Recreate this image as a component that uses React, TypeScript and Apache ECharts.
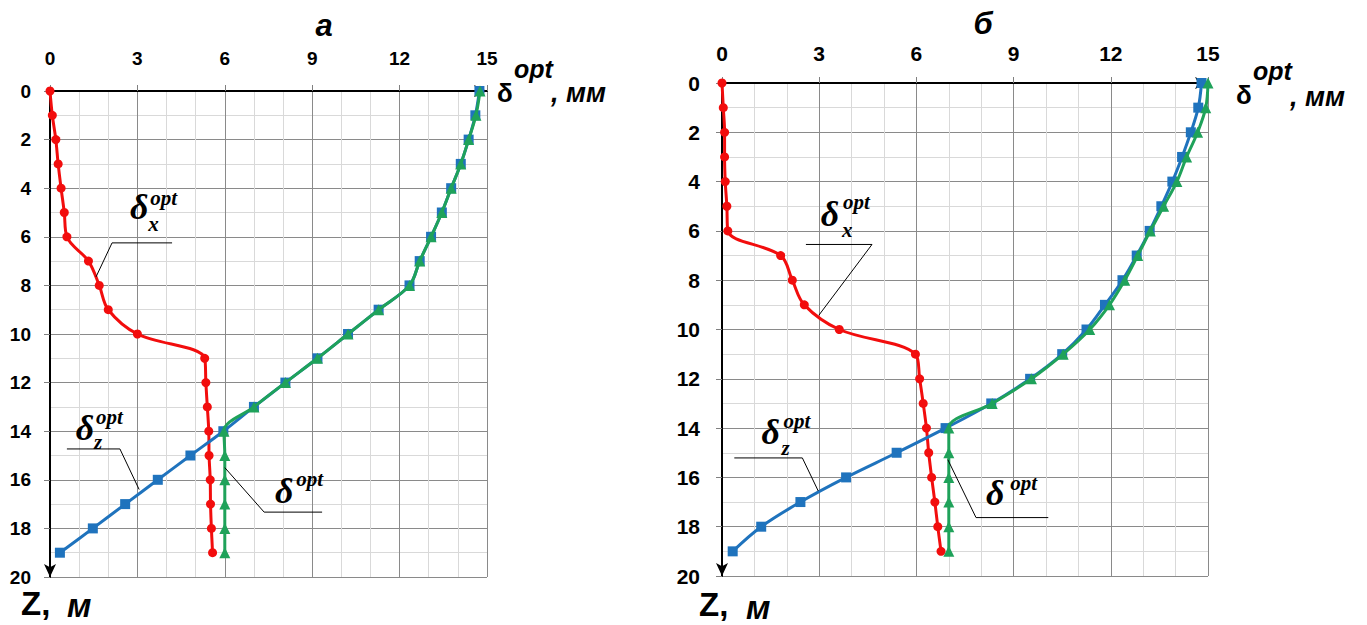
import React, { useEffect, useRef } from "react";
import * as echarts from "echarts";

// depth levels, m
const zLevels = [0, 1, 2, 3, 4, 5, 6, 7, 8, 9, 10, 11, 12, 13, 14, 15, 16, 17, 18, 19];

// panel "а"
const aDeltaX = [0, 0.08, 0.2, 0.28, 0.38, 0.49, 0.58, 1.32, 1.69, 2.0, 3.0, 5.31, 5.35, 5.4, 5.45, 5.46, 5.5, 5.51, 5.54, 5.58];
const aDeltaZ = [14.74, 14.6, 14.37, 14.1, 13.77, 13.45, 13.08, 12.69, 12.34, 11.28, 10.23, 9.18, 8.08, 7.0, 5.95, 4.82, 3.7, 2.58, 1.47, 0.34];
const aDelta = [14.76, 14.62, 14.37, 14.1, 13.77, 13.45, 13.08, 12.69, 12.34, 11.28, 10.23, 9.18, 8.08, 7.0, 5.97, 6.0, 6.0, 6.0, 6.0, 6.0];

// panel "б"
const bDeltaX = [0, 0.04, 0.08, 0.08, 0.1, 0.15, 0.18, 1.81, 2.17, 2.54, 3.62, 5.97, 6.1, 6.21, 6.31, 6.38, 6.47, 6.57, 6.66, 6.76];
const bDeltaZ = [14.8, 14.7, 14.47, 14.2, 13.9, 13.56, 13.2, 12.8, 12.36, 11.82, 11.25, 10.5, 9.51, 8.31, 6.9, 5.39, 3.83, 2.42, 1.21, 0.33];
const bDelta = [15.0, 14.93, 14.68, 14.34, 14.04, 13.63, 13.22, 12.83, 12.43, 11.96, 11.35, 10.53, 9.55, 8.34, 7.0, 7.0, 7.0, 7.0, 7.0, 7.0];

const xTicks = [0, 3, 6, 9, 12, 15];
const zTicks = [0, 2, 4, 6, 8, 10, 12, 14, 16, 18, 20];
const panelTitles = ["а", "б"];

const RED = "#f20d0d";
const BLUE = "#1f73bd";
const GREEN = "#1fa25a";

const SANS = '"Liberation Sans", Arial, sans-serif';
const NARROW = '"Liberation Sans Narrow", "Arial Narrow", "Liberation Sans", sans-serif';
const SERIF = '"Liberation Serif", "Times New Roman", serif';

function pairs(xs: number[]) {
  return xs.map((x, i) => [x, zLevels[i]]);
}

function makeAxes(gi: number, labelFont: string, labelSize: number, xMargin: number, yMargin: number) {
  const base = {
    show: true,
    onZero: false,
    symbolSize: [9, 13],
    lineStyle: { color: "#000", width: 2 },
  };
  const label = { fontSize: labelSize, fontWeight: "bold", color: "#000", fontFamily: labelFont };
  const x = {
    gridIndex: gi,
    type: "value",
    position: "top",
    min: xTicks[0],
    max: xTicks[xTicks.length - 1],
    interval: xTicks[1] - xTicks[0],
    axisLine: { ...base, symbol: ["none", "arrow"] },
    axisTick: { show: true, length: 6, lineStyle: { color: "#808080" } },
    axisLabel: { ...label, margin: xMargin },
    splitLine: { show: true, lineStyle: { color: "#8a8a8a", width: 1 } },
    minorTick: { show: false, splitNumber: 3 },
    minorSplitLine: { show: true, lineStyle: { color: "#d9d9d9", width: 1 } },
  };
  const y = {
    gridIndex: gi,
    type: "value",
    inverse: true,
    min: zTicks[0],
    max: zTicks[zTicks.length - 1],
    interval: zTicks[1] - zTicks[0],
    axisLine: { ...base, symbol: ["arrow", "none"] },
    axisTick: { show: true, length: 6, lineStyle: { color: "#808080" } },
    axisLabel: { ...label, margin: yMargin },
    splitLine: { show: true, lineStyle: { color: "#8a8a8a", width: 1 } },
    minorTick: { show: false, splitNumber: 2 },
    minorSplitLine: { show: true, lineStyle: { color: "#d9d9d9", width: 1 } },
  };
  return { x, y };
}

function lineSeries(name: string, gi: number, xs: number[], color: string, symbol: string, size: number, z: number) {
  return {
    name,
    type: "line",
    xAxisIndex: gi,
    yAxisIndex: gi,
    data: pairs(xs),
    smooth: 0.35,
    symbol,
    symbolSize: size,
    showSymbol: true,
    lineStyle: { color, width: 3 },
    itemStyle: { color },
    z,
  };
}

function txt(x: number, y: number, text: string, font: string, align = "left") {
  return {
    type: "text",
    x,
    y,
    silent: true,
    z: 50,
    style: {
      text,
      font,
      fill: "#000",
      textAlign: align,
      align,
      textVerticalAlign: "middle",
      verticalAlign: "middle",
    },
  };
}

export default function App() {
  const ref = useRef<HTMLDivElement>(null);
  useEffect(() => {
    if (!ref.current) return;
    const chart = echarts.init(ref.current, undefined, { renderer: "svg" });
    const a = makeAxes(0, SANS, 19, 23, 19);
    const b = makeAxes(1, NARROW, 21, 19, 22);
    chart.setOption({
      animation: false,
      backgroundColor: "#fff",
      grid: [
        { left: 50, top: 91, width: 437, height: 486 },
        { left: 722, top: 83, width: 486, height: 493 },
      ],
      xAxis: [a.x, b.x],
      yAxis: [a.y, b.y],
      series: [
        lineSeries("δx a", 0, aDeltaX, RED, "circle", 9, 3),
        lineSeries("δz a", 0, aDeltaZ, BLUE, "rect", 10, 4),
        lineSeries("δ a", 0, aDelta, GREEN, "triangle", 11, 5),
        lineSeries("δx b", 1, bDeltaX, RED, "circle", 9, 3),
        lineSeries("δz b", 1, bDeltaZ, BLUE, "rect", 10, 4),
        lineSeries("δ b", 1, bDelta, GREEN, "triangle", 11, 5),
      ],
    });

    const P = (gi: number, x: number, z: number) => chart.convertToPixel({ gridIndex: gi }, [x, z]) as number[];
    const deltaFont = `italic bold 36px ${SERIF}`;
    const supFont = `italic bold 21px ${SERIF}`;
    const annot = (gi: number, ax: number, az: number, sub: string | null, supDx: number, supDy: number, subDx: number, subDy: number) => {
      const [px, py] = P(gi, ax, az);
      const els: any[] = [txt(px, py, "δ", deltaFont, "center"), txt(px + supDx, py + supDy, "opt", supFont)];
      if (sub) els.push(txt(px + subDx, py + subDy, sub, supFont));
      return els;
    };
    const leader = (gi: number, pts: number[][]) => ({
      type: "polyline",
      silent: true,
      z: 50,
      shape: { points: pts.map((p) => P(gi, p[0], p[1])) },
      style: { stroke: "#000", lineWidth: 1, fill: null },
    });

    const axisNameFontD = `bold 26px ${SANS}`;
    const axisNameFontO = `italic bold 25px ${SANS}`;
    const axisNameFontM = `italic bold 27px ${SANS}`;
    const elements: any[] = [
      // titles
      txt(324, 25, panelTitles[0], `italic bold 31px ${SANS}`, "center"),
      txt(983, 23, panelTitles[1], `italic bold 31px ${SANS}`, "center"),
      // axis names (top)
      txt(505, 93, "δ", axisNameFontD, "center"),
      txt(514, 69, "opt", axisNameFontO),
      txt(551, 93, ", мм", axisNameFontM),
      txt(1244, 95, "δ", axisNameFontD, "center"),
      txt(1253, 71, "opt", axisNameFontO),
      txt(1290, 97, ", мм", axisNameFontM),
      // Z labels
      txt(21, 603, "Z,", `bold 33px ${SANS}`),
      txt(67, 605, "м", `italic bold 33px ${SANS}`),
      txt(699, 604, "Z,", `bold 33px ${SANS}`),
      txt(746, 607, "м", `italic bold 33px ${SANS}`),
      // panel а annotations
      ...annot(0, 3.06, 4.77, "x", 11, -9, 9, 17),
      leader(0, [[4.19, 6.25], [2.13, 6.25], [1.58, 7.65]]),
      ...annot(0, 1.2, 13.87, "z", 11, -11, 9, 14),
      leader(0, [[0.58, 14.73], [2.4, 14.73], [3.06, 16.4]]),
      ...annot(0, 8.04, 16.46, null, 12, -12, 0, 0),
      leader(0, [[6.0, 15.5], [7.35, 17.33], [9.34, 17.33]]),
      // panel б annotations
      ...annot(1, 3.33, 5.3, "x", 13, -12, 12, 16),
      leader(1, [[2.59, 6.55], [4.63, 6.55], [2.99, 9.42]]),
      ...annot(1, 1.5, 14.17, "z", 13, -11, 11, 16),
      leader(1, [[0.38, 15.21], [2.48, 15.21], [2.97, 16.55]]),
      ...annot(1, 8.43, 16.65, null, 15, -10, 0, 0),
      leader(1, [[6.97, 15.28], [7.84, 17.63], [10.07, 17.63]]),
    ];
    chart.setOption({ graphic: { elements } });
    return () => chart.dispose();
  }, []);
  return <div ref={ref} style={{ position: "absolute", left: 0, top: 0, width: 1367, height: 625, background: "#fff" }} />;
}
